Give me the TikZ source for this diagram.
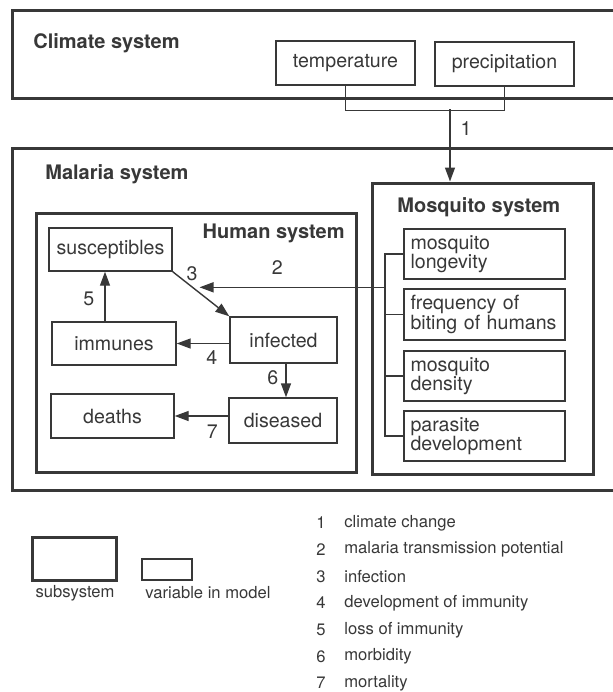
\documentclass[tikz,border=0pt]{standalone}
\usepackage{fontspec}
\setmainfont{TeX Gyre Heros}
\usetikzlibrary{arrows.meta}
\usetikzlibrary{positioning}
\definecolor{ink}{gray}{0.22}

\tikzset{
  subsys/.style={draw=ink, line width=1.5pt, inner sep=0pt},
  var/.style={draw=ink, line width=0.7pt, inner sep=0pt, text=ink,
    font=\fontsize{9.8}{9.75}\selectfont},
  mvar/.style={var, minimum width=80.5pt, minimum height=25pt, text width=74pt, align=left},
  link/.style={draw=ink, line width=0.7pt},
  flow/.style={link, -{Triangle[length=7pt,width=5pt]}},
  head/.style={font=\fontsize{10}{12}\selectfont\bfseries, text=ink, inner sep=0pt},
  num/.style={font=\fontsize{9.8}{12}\selectfont, text=ink, inner sep=0pt},
  key/.style={font=\fontsize{8.3}{10}\selectfont, text=ink, inner sep=0pt}
}

\begin{document}
\begin{tikzpicture}[x=0.5pt, y=-0.5pt]
  \useasboundingbox (0,0) rectangle (613,692);
  \clip (0,0) rectangle (613,692);

  % subsystems
  \node[subsys, minimum width=314pt, minimum height=44pt] (climate) at (326,54) {};
  \node[subsys, minimum width=314pt, minimum height=171pt] (malaria) at (326,319) {};
  \node[subsys, minimum width=160pt, minimum height=129.5pt] (human) at (196,342.5) {};
  \node[subsys, minimum width=110.5pt, minimum height=145.5pt] (mosq) at (482.5,328.5) {};

  \node[head, anchor=west] (climatelbl) at (33,43) {Climate system};
  \node[head, anchor=west] (malarialbl) at (45,174) {Malaria system};
  \node[head, anchor=east] (humanlbl) at (345,233) {Human system};
  \node[head, anchor=west] (mosqlbl) at (397,207) {Mosquito system};

  % climate variables
  \node[var, minimum width=69.5pt, minimum height=22pt] (temp) at (345.5,63) {temperature};
  \node[var, minimum width=69.5pt, minimum height=22pt] (prec) at (504.5,64) {precipitation};

  % human variables
  \node[var, minimum width=61.5pt, minimum height=21.5pt] (sus) at (110.5,249.5) {susceptibles};
  \node[var, minimum width=62pt, minimum height=21.5pt] (imm) at (114,343.5) {immunes};
  \node[var, minimum width=61.5pt, minimum height=22pt] (dth) at (112.5,416) {deaths};
  \node[var, minimum width=53.5pt, minimum height=23pt] (inf) at (283.5,340) {infected};
  \node[var, minimum width=54pt, minimum height=22.5pt] (dis) at (283,420.5) {diseased};

  % mosquito variables
  \node[mvar] (lon) at (484.5,254) {mosquito\\longevity};
  \node[mvar, minimum height=25.5pt] (bit) at (484.5,314.5) {frequency of\\biting of humans};
  \node[mvar] (den) at (484.5,376) {mosquito\\density};
  \node[mvar] (par) at (484.5,436) {parasite\\development};

  % climate change
  \coordinate (join) at (450,109);
  \draw[link] (temp.south) -- ++(0,25) -| (prec.south);
  \draw[flow] (join) -- (mosq.north -| join) node[num, pos=0.27, right=5pt] (l1) {1};

  % mosquito factors
  \coordinate (bar) at (385,262);
  \draw[link] (lon.west) -- (lon.west -| bar) -- (par.west -| bar) -- (par.west);
  \foreach \v in {bit,den}
    \draw[link] (\v.west) -- (\v.west -| bar);

  % human flows
  \draw[flow] (sus.south east) -- (inf.north west) coordinate[pos=0.35] (hit);
  \node[num] (l3) at (192,274) {3};
  \draw[flow, shorten >=3.5pt] (bar |- hit) -- (hit) node[num, pos=0.56, above=6pt] (l2) {2};
  \draw[flow] (inf.west |- imm.east) -- (imm.east) node[num, pos=0.33, below=3pt] (l4) {4};
  \draw[flow] (imm.north -| 105,0) -- (sus.south -| 105,0) node[num, pos=0.45, left=5pt] (l5) {5};
  \draw[flow] (inf.south -| 286,0) -- (dis.north -| 286,0) node[num, pos=0.43, left=3.5pt] (l6) {6};
  \draw[flow] (dis.west |- dth.east) -- (dth.east) node[num, pos=0.3, below=4pt] (l7) {7};

  % key
  \node[subsys, minimum width=42pt, minimum height=21.5pt] (keysub) at (74,558.5) {};
  \node[var, minimum width=25pt, minimum height=10.5pt] (keyvar) at (167,569.5) {};
  \node[key] (keysubtxt) at (75,593) {subsystem};
  \node[key, anchor=west] (keyvartxt) at (145,593) {variable in model};

  \foreach \n/\t [count=\i from 0] in {1/climate change, 2/malaria transmission potential,
      3/infection, 4/development of immunity, 5/loss of immunity, 6/morbidity, 7/mortality} {
    \node[key] (n\n) at (321,523+26.7*\i) {\n};
    \node[key, anchor=west] (t\n) at (344,523+26.7*\i) {\t};
  }
\end{tikzpicture}
\end{document}
